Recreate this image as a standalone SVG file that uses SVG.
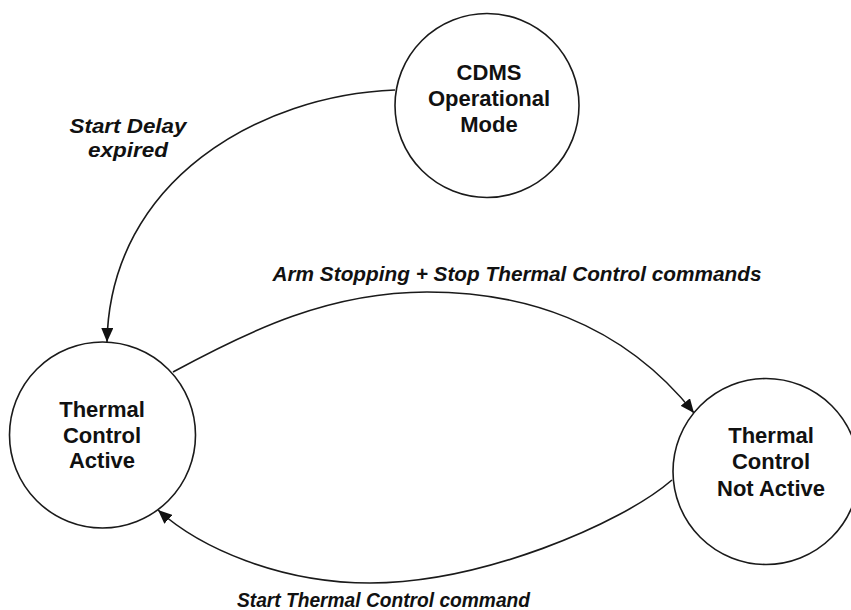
<svg xmlns="http://www.w3.org/2000/svg" width="851" height="610" viewBox="0 0 851 610">
  <style>
    .node { fill: #ffffff; stroke: #1a1a1a; stroke-width: 1.6; }
    .ntext { font-family: "Liberation Sans", Arial, sans-serif; font-weight: bold; font-size: 22px; fill: #111; text-anchor: middle; }
    .ltext { font-family: "Liberation Sans", Arial, sans-serif; font-weight: bold; font-style: italic; font-size: 21px; fill: #111; text-anchor: middle; }
    .edge { fill: none; stroke: #1a1a1a; stroke-width: 1.6; }
  </style>
  <defs>
    <marker id="arrow" markerUnits="userSpaceOnUse" markerWidth="14" markerHeight="12" refX="14" refY="6" orient="auto">
      <path d="M0,0 L14,6 L0,12 z" fill="#111"/>
    </marker>
  </defs>
  <rect width="851" height="610" fill="#ffffff"/>

  <g id="connectors">
    <path class="edge" d="M 395 90 C 260 95, 110 180, 107 342" marker-end="url(#arrow)"/>
    <path class="edge" d="M 173 372 C 250 330, 330 292, 427 292 C 520 292, 620 320, 694 413" marker-end="url(#arrow)"/>
    <path class="edge" d="M 672 480 C 620 525, 480 583, 370 583 C 280 583, 200 548, 158 510" marker-end="url(#arrow)"/>
    <text class="ltext" x="128" y="133" textLength="117" lengthAdjust="spacingAndGlyphs">Start Delay</text>
    <text class="ltext" x="128" y="157" textLength="80" lengthAdjust="spacingAndGlyphs">expired</text>
    <text class="ltext" x="517" y="281" textLength="489" lengthAdjust="spacingAndGlyphs">Arm Stopping + Stop Thermal Control commands</text>
    <text class="ltext" x="383.5" y="607" textLength="293" lengthAdjust="spacingAndGlyphs">Start Thermal Control command</text>
  </g>

  <g id="cdms">
    <circle class="node" cx="487" cy="105.5" r="92"/>
    <text class="ntext" x="489" y="80">CDMS</text>
    <text class="ntext" x="489" y="106">Operational</text>
    <text class="ntext" x="489" y="132">Mode</text>
  </g>

  <g id="tc-active">
    <circle class="node" cx="102.5" cy="435" r="93"/>
    <text class="ntext" x="102" y="417">Thermal</text>
    <text class="ntext" x="102" y="442.5">Control</text>
    <text class="ntext" x="102" y="468">Active</text>
  </g>

  <g id="tc-not-active">
    <circle class="node" cx="766" cy="471.5" r="93"/>
    <text class="ntext" x="771" y="443">Thermal</text>
    <text class="ntext" x="771" y="469">Control</text>
    <text class="ntext" x="771" y="496">Not Active</text>
  </g>
</svg>
